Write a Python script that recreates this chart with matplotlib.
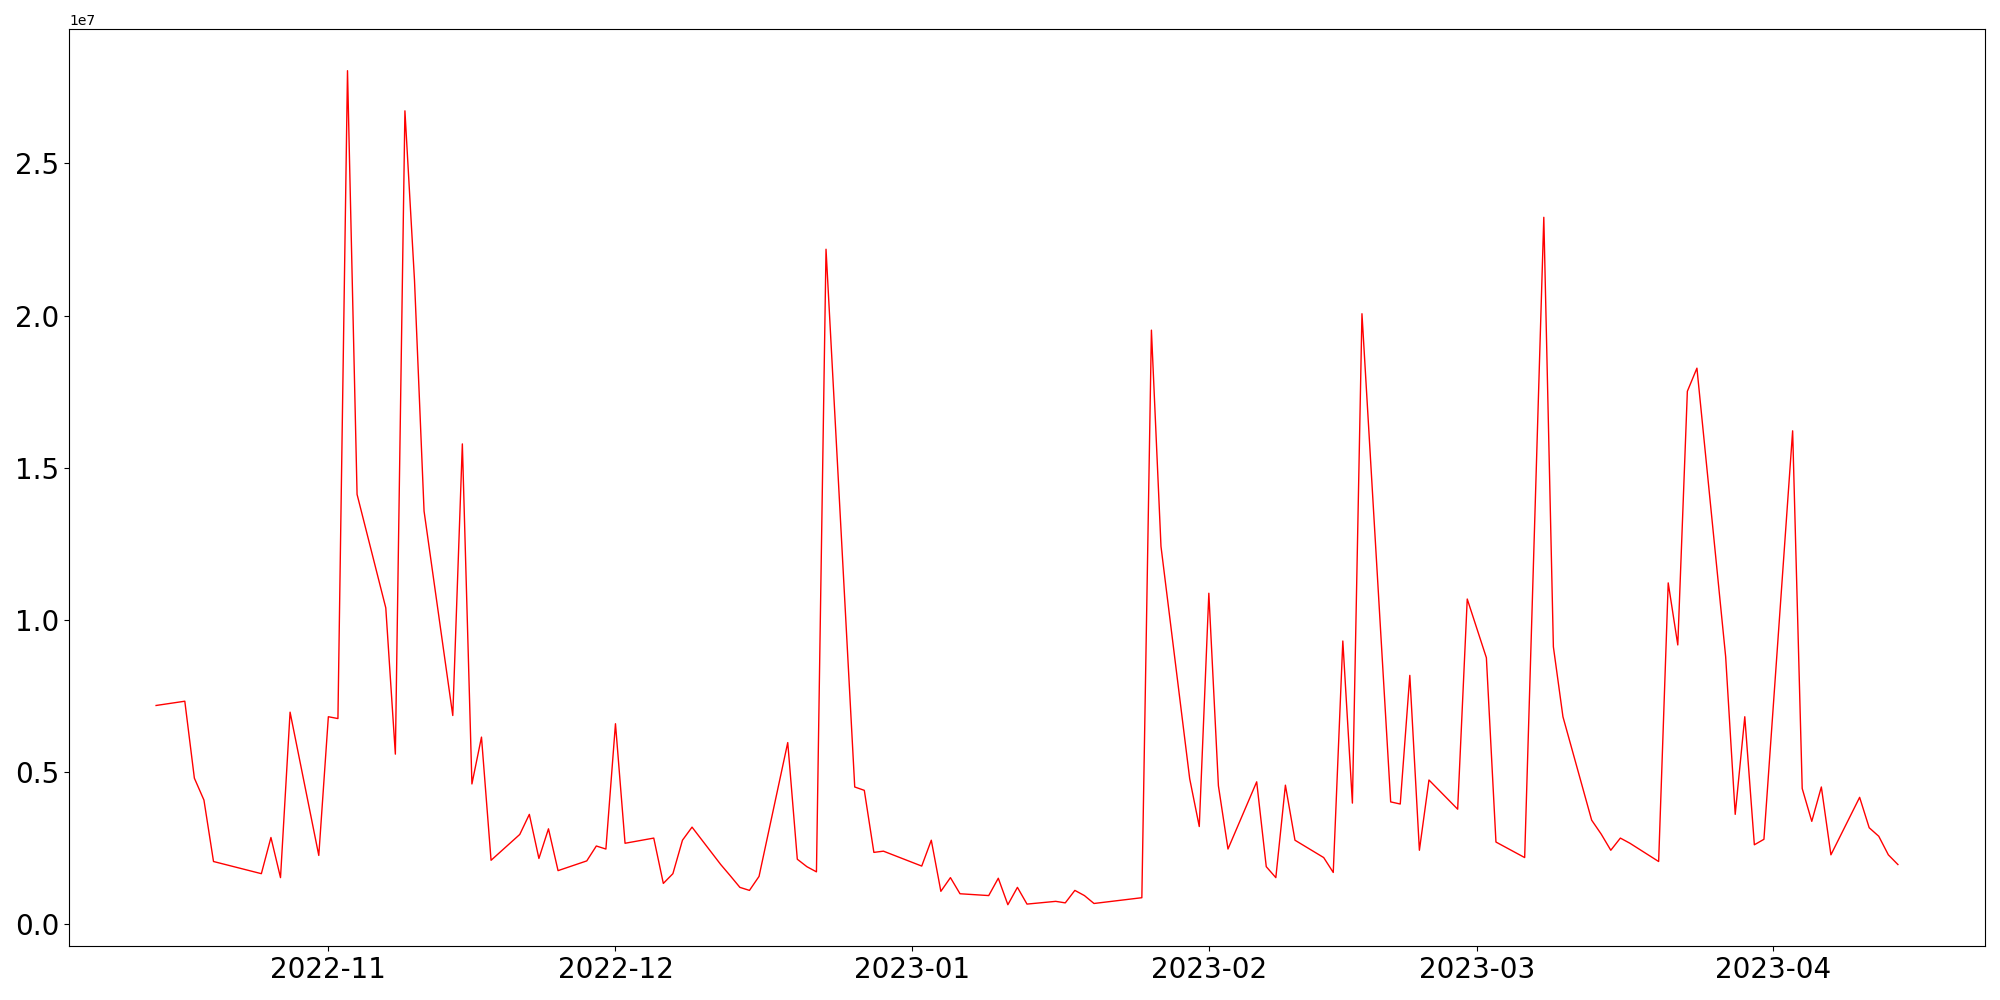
import matplotlib
matplotlib.use("Agg")
import matplotlib.pyplot as plt
import pandas as pd

# trading dates and values (units of 1e7)
dates = [
  "2022-10-14", "2022-10-17", "2022-10-18", "2022-10-19", "2022-10-20",
  "2022-10-25", "2022-10-26", "2022-10-27", "2022-10-28", "2022-10-31",
  "2022-11-01", "2022-11-02", "2022-11-03", "2022-11-04", "2022-11-07",
  "2022-11-08", "2022-11-09", "2022-11-10", "2022-11-11", "2022-11-14",
  "2022-11-15", "2022-11-16", "2022-11-17", "2022-11-18", "2022-11-21",
  "2022-11-22", "2022-11-23", "2022-11-24", "2022-11-25", "2022-11-28",
  "2022-11-29", "2022-11-30", "2022-12-01", "2022-12-02", "2022-12-05",
  "2022-12-06", "2022-12-07", "2022-12-08", "2022-12-09", "2022-12-12",
  "2022-12-13", "2022-12-14", "2022-12-15", "2022-12-16", "2022-12-19",
  "2022-12-20", "2022-12-21", "2022-12-22", "2022-12-23", "2022-12-26",
  "2022-12-27", "2022-12-28", "2022-12-29", "2023-01-02", "2023-01-03",
  "2023-01-04", "2023-01-05", "2023-01-06", "2023-01-09", "2023-01-10",
  "2023-01-11", "2023-01-12", "2023-01-13", "2023-01-16", "2023-01-17",
  "2023-01-18", "2023-01-19", "2023-01-20", "2023-01-25", "2023-01-26",
  "2023-01-27", "2023-01-30", "2023-01-31", "2023-02-01", "2023-02-02",
  "2023-02-03", "2023-02-06", "2023-02-07", "2023-02-08", "2023-02-09",
  "2023-02-10", "2023-02-13", "2023-02-14", "2023-02-15", "2023-02-16",
  "2023-02-17", "2023-02-20", "2023-02-21", "2023-02-22", "2023-02-23",
  "2023-02-24", "2023-02-27", "2023-02-28", "2023-03-02", "2023-03-03",
  "2023-03-06", "2023-03-08", "2023-03-09", "2023-03-10", "2023-03-13",
  "2023-03-14", "2023-03-15", "2023-03-16", "2023-03-17", "2023-03-20",
  "2023-03-21", "2023-03-22", "2023-03-23", "2023-03-24", "2023-03-27",
  "2023-03-28", "2023-03-29", "2023-03-30", "2023-03-31", "2023-04-03",
  "2023-04-04", "2023-04-05", "2023-04-06", "2023-04-07", "2023-04-10",
  "2023-04-11", "2023-04-12", "2023-04-13", "2023-04-14",
]
values = [
  0.718, 0.732, 0.479, 0.407, 0.205,
  0.165, 0.284, 0.152, 0.696, 0.225,
  0.681, 0.675, 2.805, 1.412, 1.039,
  0.558, 2.673, 2.116, 1.357, 0.685,
  1.578, 0.460, 0.614, 0.209, 0.294,
  0.360, 0.215, 0.3125, 0.175, 0.207,
  0.256, 0.246, 0.658, 0.265, 0.282,
  0.133, 0.165, 0.275, 0.318, 0.195,
  0.158, 0.120, 0.110, 0.156, 0.596,
  0.2125, 0.188, 0.171, 2.218, 0.450,
  0.439, 0.235, 0.239, 0.190, 0.275,
  0.107, 0.152, 0.099, 0.093, 0.150,
  0.063, 0.120, 0.065, 0.074, 0.069,
  0.110, 0.093, 0.067, 0.086, 1.952,
  1.241, 0.477, 0.320, 1.087, 0.454,
  0.246, 0.467, 0.188, 0.152, 0.456,
  0.275, 0.218, 0.169, 0.930, 0.397,
  2.006, 0.401, 0.394, 0.817, 0.242,
  0.473, 0.377, 1.068, 0.875, 0.269,
  0.218, 2.323, 0.911, 0.681, 0.341,
  0.295, 0.242, 0.282, 0.265, 0.205,
  1.121, 0.917, 1.751, 1.827, 0.879,
  0.360, 0.681, 0.260, 0.278, 1.621,
  0.445, 0.337, 0.450, 0.227, 0.416,
  0.316, 0.288, 0.227, 0.195,
]

x = pd.to_datetime(dates)
y = [v * 1e7 for v in values]

fig, ax = plt.subplots(figsize=(20, 10), dpi=100)
ax.plot(x, y, color="red", linewidth=1)
plt.xticks(fontsize=20)
plt.yticks(fontsize=20)
fig.subplots_adjust(left=0.0345, right=0.9925, top=0.971, bottom=0.0536)
fig.savefig("out.png")
